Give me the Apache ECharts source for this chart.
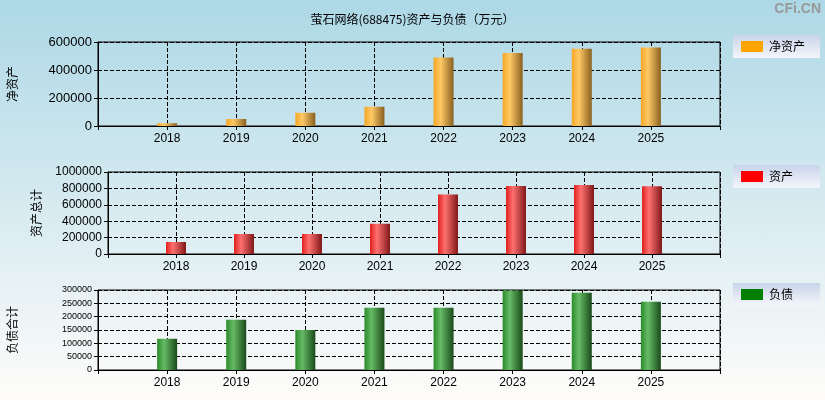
<!DOCTYPE html>
<html>
<head><meta charset="utf-8">
<script src="https://cdn.jsdelivr.net/npm/echarts@6/dist/echarts.min.js"></script>
</head>
<body style="margin:0">
<div id="c" style="width:825px;height:400px;background:linear-gradient(#add8e6,#fefcfa)"></div>
<script>
const years = [2018, 2019, 2020, 2021, 2022, 2023, 2024, 2025];
const netAssets = [20000, 50000, 95000, 138000, 490000, 522000, 552000, 560000];
const totalAssets = [145000, 245000, 245000, 370000, 725000, 830000, 840000, 825000];
const liabilities = [117000, 188000, 150000, 233000, 233000, 298000, 290000, 256000];

const grids = [
  { left: 98, right: 105, top: 42, height: 84, max: 600000, interval: 200000, fs: 13, gap: 80, name: '净资产', series: '净资产', data: netAssets, c: ['#ffc966', '#f5a623', '#8a6020'], leg: 'orange' },
  { left: 108, right: 105, top: 172, height: 82, max: 1000000, interval: 200000, fs: 12, gap: 66, name: '资产总计', series: '资产', data: totalAssets, c: ['#ff7070', '#e02020', '#801818'], leg: 'red' },
  { left: 98, right: 105, top: 290, height: 80, max: 300000, interval: 50000, fs: 9, gap: 80, name: '负债合计', series: '负债', data: liabilities, c: ['#66bb66', '#2a8a2a', '#1a4a1a'], leg: 'green' }
];
const dash = { type: 'dashed', color: '#000', width: 1 };
const chart = echarts.init(document.getElementById('c'));
chart.setOption({
  title: { text: '萤石网络(688475)资产与负债（万元）', left: 'center', top: 8, textStyle: { fontSize: 12, fontWeight: 'normal', color: '#000', fontFamily: 'Noto Sans CJK SC' } },
  graphic: [
    { type: 'text', right: 4, top: 2, style: { text: 'CFi.CN', fill: '#999', font: 'bold 14px sans-serif' } }
  ].concat(grids.map((g, i) => ({
    type: 'group', left: 733, top: g.top - 7, children: [
      { type: 'rect', shape: { width: 87, height: 23 }, style: { fill: new echarts.graphic.LinearGradient(0, 0, 0, 1, [{ offset: 0, color: '#c8d4ea' }, { offset: 1, color: '#f4f6fb' }]) } },
      { type: 'rect', shape: { x: 8, y: 6, width: 22, height: 11 }, style: { fill: g.leg } },
      { type: 'text', x: 36, y: 5, style: { text: g.series, fill: '#000', font: '12px Noto Sans CJK SC' } }
    ]
  }))),
  grid: grids.map(g => ({ left: g.left, right: g.right, top: g.top, height: g.height, show: true, borderColor: '#000', borderWidth: 1, containLabel: false, outerBoundsMode: 'none' })),
  xAxis: grids.map((g, i) => ({
    type: 'value', gridIndex: i, min: 2017, max: 2026, interval: 1,
    axisLine: { lineStyle: { color: '#000' } }, axisTick: { show: true, length: 4, lineStyle: { color: '#000' } },
    splitLine: { show: true, lineStyle: dash },
    axisLabel: { color: '#000', fontSize: 12, margin: 7, formatter: v => (v > 2017 && v < 2026 ? String(v) : '') }
  })),
  yAxis: grids.map((g, i) => ({
    type: 'value', gridIndex: i, min: 0, max: g.max, interval: g.interval,
    name: g.name, nameLocation: 'middle', nameGap: g.gap, nameRotate: 90,
    nameTextStyle: { color: '#000', fontSize: 12, fontFamily: 'Noto Sans CJK SC' },
    axisLine: { show: true, lineStyle: { color: '#000' } }, axisTick: { show: true, length: 4, lineStyle: { color: '#000' } },
    splitLine: { show: true, lineStyle: dash },
    axisLabel: { color: '#000', fontSize: g.fs, margin: 6, formatter: v => String(v) }
  })),
  series: grids.map((g, i) => ({
    type: 'bar', name: g.series, xAxisIndex: i, yAxisIndex: i, barWidth: 20,
    data: years.map((y, k) => [y, g.data[k]]),
    itemStyle: { color: new echarts.graphic.LinearGradient(0, 0, 1, 0, [{ offset: 0, color: g.c[1] }, { offset: 0.35, color: g.c[0] }, { offset: 1, color: g.c[2] }]) }
  }))
});
</script>
</body>
</html>
